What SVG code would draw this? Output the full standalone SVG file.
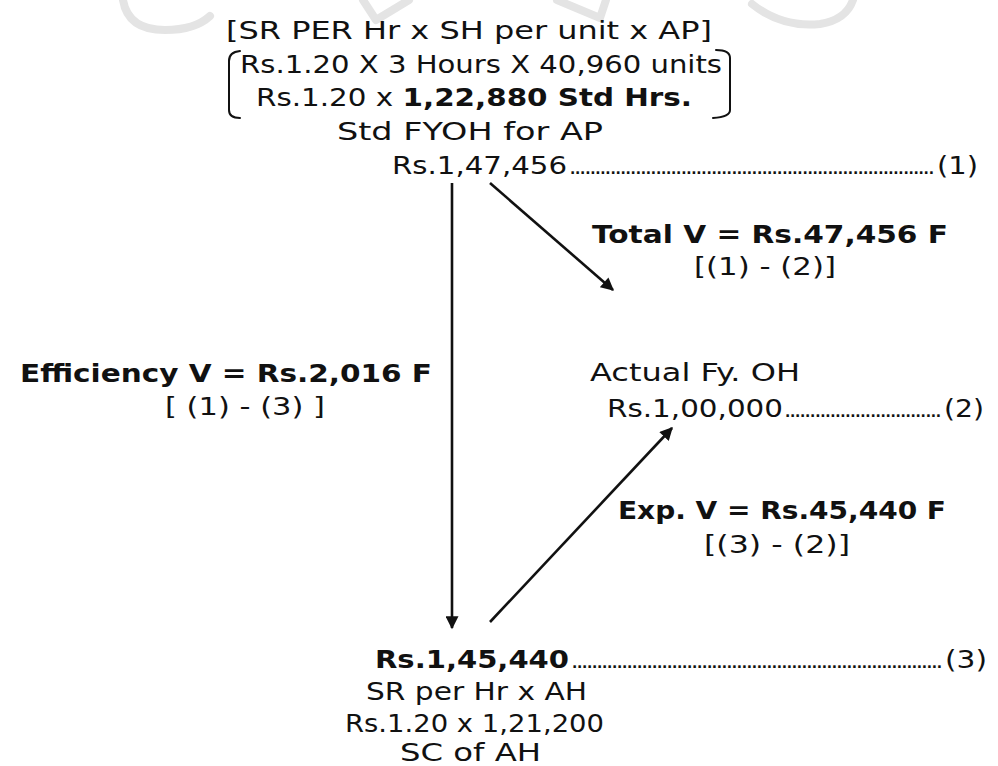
<svg xmlns="http://www.w3.org/2000/svg" width="998" height="766" viewBox="0 0 998 766">
  <style>
    text { font-family: "DejaVu Sans", "Liberation Sans", sans-serif; font-size: 24px; fill: #111; }
    .b { font-weight: 700; }
    .dots { font-size: 14px; font-weight: 700; }
    .wm { fill: none; stroke: #e4e4e4; stroke-width: 8; stroke-linecap: round; stroke-linejoin: round; }
    .br { fill: none; stroke: #111; stroke-width: 2; stroke-linecap: round; }
    .edge { fill: none; stroke: #111; stroke-width: 2.6; }
  </style>
  <defs>
    <marker id="head" viewBox="0 0 10 10" refX="9" refY="5" markerWidth="5.2" markerHeight="5" orient="auto" markerUnits="strokeWidth">
      <path d="M0,0 L10,5 L0,10 Z" fill="#111"/>
    </marker>
  </defs>
  <rect width="998" height="766" fill="#fff"/>

  <!-- faint logo marks along the top edge -->
  <g id="watermark">
    <path class="wm" d="M123,0 Q128,30 165,30 Q195,30 210,16"/>
    <path class="wm" d="M363,0 L376,20 L409,0"/>
    <path class="wm" d="M557,0 L600,18 L606,0"/>
    <path class="wm" d="M752,4 Q782,28 820,24 Q846,20 853,0"/>
  </g>

  <!-- standard fixed overhead for actual production -->
  <g id="std-foh">
    <text x="226" y="39" textLength="486" lengthAdjust="spacingAndGlyphs">[SR PER Hr x SH per unit x AP]</text>
    <path class="br" d="M240,51 Q229,52 229,61 L229,110 Q229,118 240,118"/>
    <path class="br" d="M716,50 Q730,50 730,58 L730,110 Q730,117 713,118"/>
    <text x="240" y="73" textLength="482" lengthAdjust="spacingAndGlyphs">Rs.1.20 X 3 Hours X 40,960 units</text>
    <text x="256" y="106" textLength="436" lengthAdjust="spacingAndGlyphs">Rs.1.20 x <tspan class="b">1,22,880 Std Hrs.</tspan></text>
    <text x="337" y="140" textLength="266" lengthAdjust="spacingAndGlyphs">Std FYOH for AP</text>
    <text x="392" y="174" textLength="175" lengthAdjust="spacingAndGlyphs">Rs.1,47,456</text>
    <text class="dots" x="570" y="174" textLength="364" lengthAdjust="spacing">........................................................................</text>
    <text x="937" y="174" textLength="41" lengthAdjust="spacingAndGlyphs">(1)</text>
  </g>

  <!-- actual fixed overhead -->
  <g id="actual-foh">
    <text x="590" y="381" textLength="210" lengthAdjust="spacingAndGlyphs">Actual Fy. OH</text>
    <text x="607" y="417" textLength="176" lengthAdjust="spacingAndGlyphs">Rs.1,00,000</text>
    <text class="dots" x="785" y="417" textLength="156" lengthAdjust="spacing">...............................</text>
    <text x="944" y="417" textLength="40" lengthAdjust="spacingAndGlyphs">(2)</text>
  </g>

  <!-- standard cost of actual hours -->
  <g id="sc-ah">
    <text class="b" x="375" y="668" textLength="194" lengthAdjust="spacingAndGlyphs">Rs.1,45,440</text>
    <text class="dots" x="572" y="668" textLength="370" lengthAdjust="spacing">..........................................................................</text>
    <text x="945" y="668" textLength="42" lengthAdjust="spacingAndGlyphs">(3)</text>
    <text x="366" y="700" textLength="221" lengthAdjust="spacingAndGlyphs">SR per Hr x AH</text>
    <text x="345" y="732" textLength="259" lengthAdjust="spacingAndGlyphs">Rs.1.20 x 1,21,200</text>
    <text x="400" y="761" textLength="141" lengthAdjust="spacingAndGlyphs">SC of AH</text>
  </g>

  <!-- variance labels -->
  <g id="total-v">
    <text class="b" x="592" y="243" textLength="356" lengthAdjust="spacingAndGlyphs">Total V = Rs.47,456 F</text>
    <text x="694" y="275" textLength="142" lengthAdjust="spacingAndGlyphs">[(1) - (2)]</text>
  </g>
  <g id="efficiency-v">
    <text class="b" x="20" y="382" textLength="412" lengthAdjust="spacingAndGlyphs">Efficiency V = Rs.2,016 F</text>
    <text x="165" y="415" textLength="160" lengthAdjust="spacingAndGlyphs">[ (1) - (3) ]</text>
  </g>
  <g id="expenditure-v">
    <text class="b" x="618" y="519" textLength="328" lengthAdjust="spacingAndGlyphs">Exp. V = Rs.45,440 F</text>
    <text x="704" y="553" textLength="146" lengthAdjust="spacingAndGlyphs">[(3) - (2)]</text>
  </g>

  <g id="connectors">
    <line class="edge" x1="452" y1="183" x2="452" y2="628" marker-end="url(#head)"/>
    <line class="edge" x1="490" y1="183" x2="613" y2="290" marker-end="url(#head)"/>
    <line class="edge" x1="490" y1="622" x2="672" y2="428" marker-end="url(#head)"/>
  </g>
</svg>
